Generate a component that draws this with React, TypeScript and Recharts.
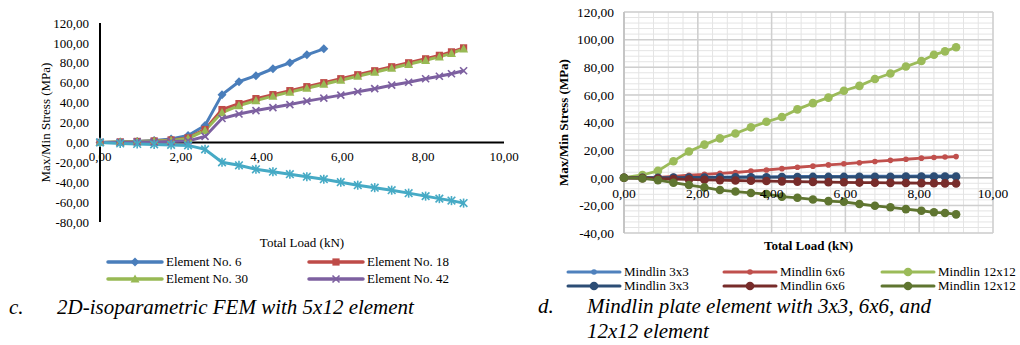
import React from "react";
import { LineChart, Line, XAxis, YAxis, CartesianGrid, ReferenceLine } from "recharts";

// total load (kN), shared by both charts
const loads = [0, 0.5, 0.92, 1.34, 1.76, 2.18, 2.6, 3.02, 3.44, 3.86, 4.28, 4.7, 5.12, 5.54, 5.96, 6.38, 6.8, 7.22, 7.64, 8.06, 8.4, 8.7, 9.0];

// c. 2D-isoparametric FEM, 5x12 elements (MPa)
const element6 = [0, 0.5, 1, 2, 3.5, 7, 17, 48, 61, 67, 74, 80, 88, 94];
const element18 = [0, 0.5, 1, 1.5, 2.5, 4.5, 13, 33, 39, 44, 48, 52, 56, 60, 64, 68, 72, 76, 80, 84, 87.5, 91, 95];
const element30 = [0, 0.3, 0.8, 1.3, 2, 4, 12, 30, 37, 42, 46.5, 50.5, 54.5, 58.5, 62.5, 66.5, 70.5, 74.5, 78.5, 82.5, 86, 89.5, 94];
const element42 = [0, 0, 0.5, 0.5, 1, 1.5, 6, 24, 28.5, 32, 35, 38, 41.5, 44.5, 47.5, 51, 54, 57.5, 60.5, 64, 66.5, 69, 72];
const element54 = [0, -1, -1.5, -2, -2.5, -3, -7, -20, -23, -27, -29.5, -32, -34.5, -37, -40, -43, -45.5, -48, -51, -54, -56.5, -58.5, -61];

// d. Mindlin plate elements (MPa)
const mindlin3a = [0, 0, 0.1, 0.2, 0.3, 0.4, 0.5, 0.6, 0.7, 0.7, 0.8, 0.9, 0.9, 1.0, 1.0, 1.1, 1.1, 1.2, 1.2, 1.3, 1.3, 1.3, 1.4];
const mindlin6a = [0, 0, 0.3, 1, 1.8, 2.5, 3.2, 3.8, 4.8, 5.6, 6.6, 7.6, 8.4, 9.3, 10.1, 10.9, 11.8, 12.6, 13.4, 14.2, 14.7, 15, 15.3];
const mindlin12a = [0, 2, 5, 12, 19, 24, 28.5, 32, 36.5, 40.5, 44, 49.5, 54, 58, 63, 66.5, 71.5, 75.5, 80.5, 84.5, 89, 91.5, 94.5];
const mindlin3b = [0, 0, 0, 0.1, 0.2, 0.2, 0.3, 0.3, 0.4, 0.4, 0.5, 0.5, 0.6, 0.6, 0.6, 0.7, 0.7, 0.7, 0.8, 0.8, 0.8, 0.8, 0.9];
const mindlin6b = [0, -0.3, -0.6, -0.9, -1.2, -1.5, -1.7, -2.0, -2.2, -2.4, -2.6, -2.8, -3.0, -3.2, -3.3, -3.5, -3.6, -3.7, -3.8, -3.9, -4.0, -4.1, -4.2];
const mindlin12b = [0, -0.5, -1.7, -3.6, -5.3, -7, -8.9, -10, -11, -11.8, -13.7, -14.5, -15.7, -16.9, -17.4, -19, -20.3, -21.4, -22.7, -23.9, -25, -25.5, -26.5];

const xTicks = [0, 2, 4, 6, 8, 10];
const yTicksLeft = [-80, -60, -40, -20, 0, 20, 40, 60, 80, 100, 120];
const yTicksRight = [-40, -20, 0, 20, 40, 60, 80, 100, 120];
const xMinor = Array.from({ length: 26 }, (_, i) => i * 0.4);
const yMinor = Array.from({ length: 41 }, (_, i) => -40 + i * 4);

const femData = loads.map((load, i) => ({
  load,
  e6: element6[i],
  e18: element18[i],
  e30: element30[i],
  e42: element42[i],
  e54: element54[i],
}));

const mindlinData = loads.map((load, i) => ({
  load,
  m3a: mindlin3a[i],
  m6a: mindlin6a[i],
  m12a: mindlin12a[i],
  m3b: mindlin3b[i],
  m6b: mindlin6b[i],
  m12b: mindlin12b[i],
}));

const femSeries = [
  { key: "e6", name: "Element No. 6", color: "#4A7EBB", shape: "diamond", size: 4.5 },
  { key: "e18", name: "Element No. 18", color: "#BE4B48", shape: "square", size: 3.6 },
  { key: "e30", name: "Element No. 30", color: "#98B954", shape: "triangle", size: 4.5 },
  { key: "e42", name: "Element No. 42", color: "#7D60A0", shape: "cross", size: 3.5 },
  { key: "e54", name: "Element No. 54", color: "#46AAC5", shape: "star", size: 3.8 },
];

const mindlinSeries = [
  { key: "m3a", name: "Mindlin 3x3", color: "#4F81BD", shape: "circle", size: 2.8 },
  { key: "m6a", name: "Mindlin 6x6", color: "#C0504D", shape: "circle", size: 2.8 },
  { key: "m12a", name: "Mindlin 12x12", color: "#9BBB59", shape: "circle", size: 4.3 },
  { key: "m3b", name: "Mindlin 3x3", color: "#2C4D75", shape: "circle", size: 4.3 },
  { key: "m6b", name: "Mindlin 6x6", color: "#772C2A", shape: "circle", size: 4.3 },
  { key: "m12b", name: "Mindlin 12x12", color: "#5F7530", shape: "circle", size: 4.3 },
];

const FONT = "Liberation Serif, DejaVu Serif, serif";
const fmt = (v: number) => v.toFixed(2).replace(".", ",");

function Marker({ shape, cx, cy, color, size }: any) {
  const s = size;
  if (cx == null || cy == null) return null;
  switch (shape) {
    case "diamond":
      return <polygon points={`${cx},${cy - s} ${cx + s},${cy} ${cx},${cy + s} ${cx - s},${cy}`} fill={color} />;
    case "square":
      return <rect x={cx - s} y={cy - s} width={s * 2} height={s * 2} fill={color} />;
    case "triangle":
      return <polygon points={`${cx},${cy - s} ${cx + s},${cy + s * 0.8} ${cx - s},${cy + s * 0.8}`} fill={color} />;
    case "cross":
      return (
        <g stroke={color} strokeWidth={1.6}>
          <line x1={cx - s} y1={cy - s} x2={cx + s} y2={cy + s} />
          <line x1={cx - s} y1={cy + s} x2={cx + s} y2={cy - s} />
        </g>
      );
    case "star":
      return (
        <g stroke={color} strokeWidth={1.6}>
          <line x1={cx - s} y1={cy - s} x2={cx + s} y2={cy + s} />
          <line x1={cx - s} y1={cy + s} x2={cx + s} y2={cy - s} />
          <line x1={cx} y1={cy - s * 1.2} x2={cx} y2={cy + s * 1.2} />
        </g>
      );
    default:
      return <circle cx={cx} cy={cy} r={s} fill={color} />;
  }
}

function dotFor(s: any) {
  return (p: any) => (
    <Marker key={`${s.key}-${p.index}`} shape={s.shape} cx={p.cx} cy={p.value == null ? null : p.cy} color={s.color} size={s.size} />
  );
}

function ZeroTick({ x, payload, zeroY, baseline, fontSize }: any) {
  return (
    <text x={x} y={zeroY + baseline} textAnchor="middle" style={{ fontFamily: FONT }} fontSize={fontSize} fill="#000">
      {fmt(payload.value)}
    </text>
  );
}

function LegendBox({ items, cols, rows, lineLen, lineWidth, fontSize }: any) {
  return (
    <svg width={1020} height={345} style={{ position: "absolute", left: 0, top: 0, pointerEvents: "none" }}>
      {items.map((it: any, i: number) => {
        const cx = cols[i % cols.length];
        const cy = rows[Math.floor(i / cols.length)];
        return (
          <g key={i}>
            <line x1={cx} y1={cy} x2={cx + lineLen} y2={cy} stroke={it.color} strokeWidth={lineWidth} strokeLinecap="round" />
            <Marker shape={it.shape} cx={cx + lineLen / 2} cy={cy} color={it.color} size={it.size} />
            <text x={cx + lineLen + 4} y={cy + fontSize * 0.33} style={{ fontFamily: FONT }} fontSize={fontSize} fill="#000">
              {it.name}
            </text>
          </g>
        );
      })}
    </svg>
  );
}

// left chart geometry
const L = { w: 520, h: 250, top: 23, right: 16, yw: 100, xh: 28 };
const lPlotH = L.h - L.top - L.xh;
const lZero = L.top + (lPlotH * 120) / 200;

// right chart geometry
const R = { w: 500, h: 260, top: 12, right: 27, yw: 104, xh: 27 };
const rPlotH = R.h - R.top - R.xh;
const rZero = R.top + (rPlotH * 120) / 160;

const tickStyle = { fontFamily: FONT, fill: "#000" };

export default function App() {
  return (
    <div style={{ position: "absolute", left: 0, top: 0, width: 1020, height: 345, background: "#fff", fontFamily: FONT, overflow: "hidden" }}>
      <div style={{ position: "absolute", left: 0, top: 0 }}>
        <LineChart width={L.w} height={L.h} data={femData} margin={{ top: L.top, right: L.right, bottom: 0, left: 0 }} style={{ fontFamily: FONT }}>
          <XAxis
            dataKey="load"
            type="number"
            domain={[0, 10]}
            ticks={xTicks}
            interval={0}
            height={L.xh}
            axisLine={false}
            tickLine={false}
            tick={(p: any) => <ZeroTick {...p} zeroY={lZero} baseline={18.5} fontSize={13} />}
            label={{ value: "Total Load (kN)", position: "insideBottom", offset: 3, style: { ...tickStyle, fontSize: 13 } }}
          />
          <YAxis
            type="number"
            domain={[-80, 120]}
            ticks={yTicksLeft}
            interval={0}
            width={L.yw}
            axisLine={{ stroke: "#000", strokeWidth: 2 }}
            tickLine={false}
            tickMargin={5}
            tickFormatter={fmt}
            tick={{ ...tickStyle, fontSize: 13 }}
            label={{ value: "Max/Min Stress (MPa)", angle: -90, position: "insideLeft", offset: 45, style: { ...tickStyle, textAnchor: "middle", fontSize: 13 } }}
          />
          <ReferenceLine y={0} stroke="#000" strokeWidth={2} />
          {femSeries.map((s) => (
            <Line
              key={s.key}
              dataKey={s.key}
              name={s.name}
              stroke={s.color}
              strokeWidth={3}
              dot={dotFor(s)}
              activeDot={false}
              isAnimationActive={false}
            />
          ))}
        </LineChart>
      </div>

      <div style={{ position: "absolute", left: 520, top: 0 }}>
        <LineChart width={R.w} height={R.h} data={mindlinData} margin={{ top: R.top, right: R.right, bottom: 0, left: 0 }} style={{ fontFamily: FONT }}>
          <CartesianGrid stroke="#E4E4E4" strokeWidth={1} verticalValues={xMinor} horizontalValues={yMinor} />
          <CartesianGrid stroke="#CFCFCF" strokeWidth={1.5} />
          <XAxis
            dataKey="load"
            type="number"
            domain={[0, 10]}
            ticks={xTicks}
            interval={0}
            height={R.xh}
            axisLine={false}
            tickLine={false}
            tick={(p: any) => <ZeroTick {...p} zeroY={rZero} baseline={20.5} fontSize={13.5} />}
            label={{ value: "Total Load (kN)", position: "insideBottom", offset: 10, style: { ...tickStyle, fontSize: 13, fontWeight: "bold" } }}
          />
          <YAxis
            type="number"
            domain={[-40, 120]}
            ticks={yTicksRight}
            interval={0}
            width={R.yw}
            axisLine={{ stroke: "#BFBFBF", strokeWidth: 1.5 }}
            tickLine={false}
            tickMargin={4}
            tickFormatter={fmt}
            tick={{ ...tickStyle, fontSize: 13.5 }}
            label={{ value: "Max/Min Stress  (MPa)", angle: -90, position: "insideLeft", offset: 43, style: { ...tickStyle, textAnchor: "middle", fontSize: 13, fontWeight: "bold" } }}
          />
          <ReferenceLine y={0} stroke="#BFBFBF" strokeWidth={1.5} />
          {mindlinSeries.map((s) => (
            <Line
              key={s.key}
              dataKey={s.key}
              name={s.name}
              stroke={s.color}
              strokeWidth={2.8}
              dot={dotFor(s)}
              activeDot={false}
              isAnimationActive={false}
            />
          ))}
        </LineChart>
      </div>

      <LegendBox items={femSeries.slice(0, 4)} cols={[108, 309]} rows={[262, 279]} lineLen={54} lineWidth={3.5} fontSize={13} />
      <LegendBox items={mindlinSeries} cols={[568, 724, 882]} rows={[272, 286]} lineLen={52} lineWidth={3} fontSize={13} />

      <div style={{ position: "absolute", left: 9, top: 295, fontSize: 21, fontStyle: "italic", lineHeight: "25px" }}>c.</div>
      <div style={{ position: "absolute", left: 57, top: 295, fontSize: 21, fontStyle: "italic", lineHeight: "25px", whiteSpace: "nowrap" }}>
        2D-isoparametric FEM with 5x12 element
      </div>
      <div style={{ position: "absolute", left: 538, top: 294, fontSize: 21, fontStyle: "italic", lineHeight: "25px" }}>d.</div>
      <div style={{ position: "absolute", left: 587, top: 294, fontSize: 21, fontStyle: "italic", lineHeight: "25px", whiteSpace: "nowrap" }}>
        Mindlin plate element with 3x3, 6x6, and
        <br />
        12x12 element
      </div>
    </div>
  );
}
